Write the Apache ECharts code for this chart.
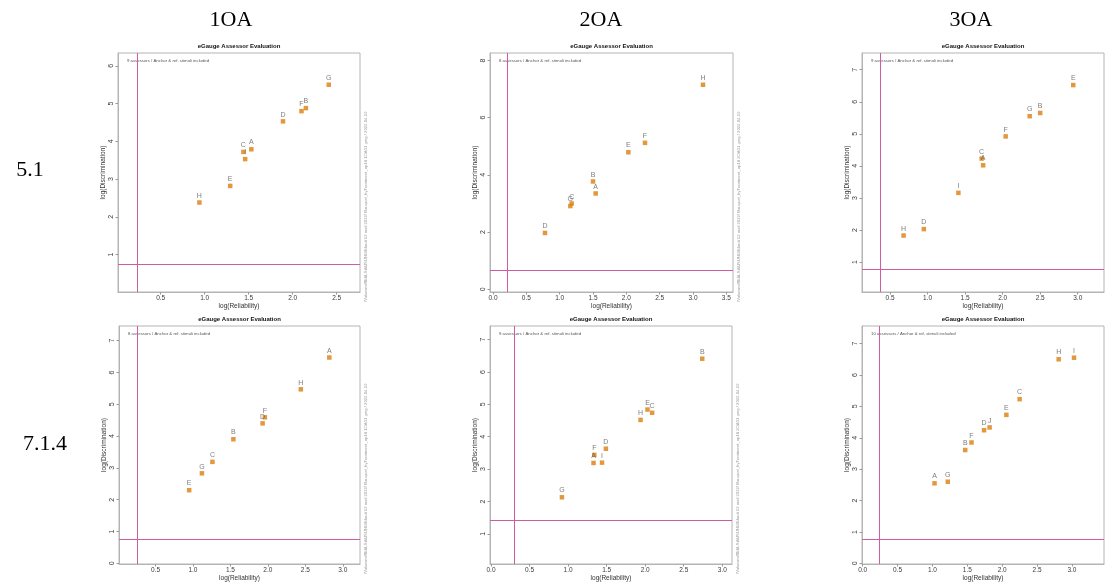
<!DOCTYPE html>
<html><head><meta charset="utf-8">
<script src="https://cdn.jsdelivr.net/npm/echarts@6/dist/echarts.min.js"></script>
<style>html,body{margin:0;padding:0;background:#fff}#c{width:1108px;height:584px}</style>
</head><body><div id="c"></div>
<script>
// ---------- data ----------
const columnLabels = ['1OA', '2OA', '3OA'];
const rowLabels = ['5.1', '7.1.4'];
const chartTitle = 'eGauge Assessor Evaluation';
const xName = 'log(Reliability)';
const yName = 'log(Discrimination)';

// panel 1 : 5.1 / 1OA
const names1 = ['G', 'B', 'F', 'D', 'A', 'C', 'I', 'E', 'H'];
const rel1   = [2.41, 2.15, 2.10, 1.89, 1.53, 1.44, 1.46, 1.29, 0.94];
const disc1  = [5.50, 4.88, 4.80, 4.53, 3.79, 3.72, 3.53, 2.82, 2.38];
// panel 2 : 5.1 / 2OA
const names2 = ['H', 'F', 'E', 'B', 'A', 'C', 'G', 'D'];
const rel2   = [3.15, 2.28, 2.03, 1.50, 1.54, 1.18, 1.16, 0.78];
const disc2  = [7.15, 5.12, 4.79, 3.77, 3.35, 3.00, 2.91, 1.97];
// panel 3 : 5.1 / 3OA
const names3 = ['E', 'B', 'G', 'F', 'C', 'A', 'I', 'D', 'H'];
const rel3   = [2.94, 2.50, 2.36, 2.04, 1.72, 1.74, 1.41, 0.95, 0.68];
const disc3  = [6.52, 5.65, 5.55, 4.92, 4.23, 4.02, 3.16, 2.03, 1.83];
// panel 4 : 7.1.4 / 1OA
const names4 = ['A', 'H', 'F', 'D', 'B', 'C', 'G', 'E'];
const rel4   = [2.82, 2.44, 1.96, 1.93, 1.54, 1.26, 1.12, 0.95];
const disc4  = [6.47, 5.47, 4.59, 4.40, 3.90, 3.19, 2.83, 2.30];
// panel 5 : 7.1.4 / 2OA
const names5 = ['B', 'E', 'C', 'H', 'D', 'F', 'A', 'I', 'G'];
const rel5   = [2.74, 2.03, 2.09, 1.94, 1.49, 1.34, 1.33, 1.44, 0.92];
const disc5  = [6.41, 4.84, 4.74, 4.52, 3.63, 3.44, 3.19, 3.20, 2.13];
// panel 6 : 7.1.4 / 3OA
const names6 = ['I', 'H', 'C', 'E', 'J', 'D', 'F', 'B', 'G', 'A'];
const rel6   = [3.03, 2.81, 2.25, 2.06, 1.82, 1.74, 1.56, 1.47, 1.22, 1.03];
const disc6  = [6.55, 6.50, 5.23, 4.73, 4.33, 4.24, 3.85, 3.61, 2.60, 2.55];

// reference lines
const refRel  = [0.235, 0.215, 0.37, 0.25, 0.30, 0.24];
const refDisc = [0.74, 0.65, 0.78, 0.76, 1.42, 0.76];

// notes
const notes = [
  '9 assessors / Anchor & ref. stimuli included',
  '8 assessors / Anchor & ref. stimuli included',
  '9 assessors / Anchor & ref. stimuli included',
  '8 assessors / Anchor & ref. stimuli included',
  '9 assessors / Anchor & ref. stimuli included',
  '10 assessors / Anchor & ref. stimuli included'
];
const paths = [
  '/Volumes/BMA-SAMSUNG/Mardi 12 avril 2022/ Bouquet_byTreatment_ap18 1OA01 .png / 2022-04-19',
  '/Volumes/BMA-SAMSUNG/Mardi 12 avril 2022/ Bouquet_byTreatment_ap18 2OA01 .png / 2022-04-19',
  '/Volumes/BMA-SAMSUNG/Mardi 12 avril 2022/ Bouquet_byTreatment_ap18 3OA01 .png / 2022-04-19',
  '/Volumes/BMA-SAMSUNG/Mardi 12 avril 2022/ Bouquet_byTreatment_ap18 1OA01 .png / 2022-04-19',
  '/Volumes/BMA-SAMSUNG/Mardi 12 avril 2022/ Bouquet_byTreatment_ap18 2OA01 .png / 2022-04-19',
  '/Volumes/BMA-SAMSUNG/Mardi 12 avril 2022/ Bouquet_byTreatment_ap18 3OA01 .png / 2022-04-19'
];

// tick labels
const xTicks1 = [0.5, 1.0, 1.5, 2.0, 2.5];
const xTicks2 = [0.0, 0.5, 1.0, 1.5, 2.0, 2.5, 3.0, 3.5];
const xTicks3 = [0.5, 1.0, 1.5, 2.0, 2.5, 3.0];
const xTicks4 = [0.5, 1.0, 1.5, 2.0, 2.5, 3.0];
const xTicks5 = [0.0, 0.5, 1.0, 1.5, 2.0, 2.5, 3.0];
const xTicks6 = [0.0, 0.5, 1.0, 1.5, 2.0, 2.5, 3.0];
const yTicks1 = [1, 2, 3, 4, 5, 6];
const yTicks2 = [0, 2, 4, 6, 8];
const yTicks3 = [1, 2, 3, 4, 5, 6, 7];
const yTicks4 = [0, 1, 2, 3, 4, 5, 6, 7];
const yTicks5 = [1, 2, 3, 4, 5, 6, 7];
const yTicks6 = [0, 1, 2, 3, 4, 5, 6, 7];

// ---------- layout ----------
const panelData = [
  [names1, rel1, disc1, xTicks1, yTicks1],
  [names2, rel2, disc2, xTicks2, yTicks2],
  [names3, rel3, disc3, xTicks3, yTicks3],
  [names4, rel4, disc4, xTicks4, yTicks4],
  [names5, rel5, disc5, xTicks5, yTicks5],
  [names6, rel6, disc6, xTicks6, yTicks6]
];
const boxes = [ // left, top, width, height
  [118, 53, 242, 239], [490, 53, 243, 239], [862, 53, 242, 239],
  [119, 326, 241, 238], [490, 326, 242, 238], [862, 326, 242, 238]
];
const ranges = [ // xmin, xmax, ymin, ymax
  [0.015, 2.765, 0.01, 6.34],
  [-0.045, 3.6, -0.094, 8.26],
  [0.126, 3.35, 0.07, 7.52],
  [0.013, 3.23, -0.02, 7.46],
  [-0.013, 3.126, 0.07, 7.42],
  [-0.01, 3.46, -0.02, 7.56]
];

const SANS = 'Liberation Sans, Arial, sans-serif';
const SERIF = 'Liberation Serif, Times New Roman, serif';
const grids = [], xAxes = [], yAxes = [], series = [], graphics = [];

panelData.forEach((p, i) => {
  const [names, rel, disc, xt, yt] = p;
  const [l, t, w, h] = boxes[i];
  const [x0, x1, y0, y1] = ranges[i];
  grids.push({left: l, top: t, width: w, height: h, show: true,
    borderColor: '#b4b4b4', borderWidth: 1, backgroundColor: 'transparent', containLabel: false});
  xAxes.push({gridIndex: i, type: 'value', min: x0, max: x1,
    splitLine: {show: false},
    axisLine: {show: true, onZero: false, lineStyle: {color: '#b4b4b4', width: 1}},
    axisTick: {show: true, length: 2.5, customValues: xt, lineStyle: {color: '#999'}},
    axisLabel: {show: true, customValues: xt, formatter: v => Number(v).toFixed(1),
      fontSize: 6.5, color: '#3a3a3a', margin: 3, fontFamily: SANS},
    name: xName, nameLocation: 'middle', nameGap: 11,
    nameTextStyle: {fontSize: 6.5, color: '#333', fontFamily: SANS}});
  yAxes.push({gridIndex: i, type: 'value', min: y0, max: y1,
    splitLine: {show: false},
    axisLine: {show: true, onZero: false, lineStyle: {color: '#b4b4b4', width: 1}},
    axisTick: {show: true, length: 2.5, customValues: yt, lineStyle: {color: '#999'}},
    axisLabel: {show: true, customValues: yt, formatter: v => String(Math.round(v)), rotate: 90,
      fontSize: 7, color: '#3a3a3a', margin: 3.5, fontFamily: SANS},
    name: yName, nameLocation: 'middle', nameGap: 11, nameRotate: 90,
    nameTextStyle: {fontSize: 6.5, color: '#333', fontFamily: SANS}});
  series.push({type: 'scatter', xAxisIndex: i, yAxisIndex: i, silent: true,
    data: rel.map((x, j) => [x, disc[j], names[j]]),
    symbol: 'rect', symbolSize: 4.5, itemStyle: {color: '#DB7F0E'},
    label: {show: true, position: 'top', distance: 1, formatter: q => q.data[2],
      fontSize: 7, color: '#5c5c5c', fontFamily: SANS},
    markLine: {silent: true, symbol: 'none', animation: false,
      label: {show: false},
      lineStyle: {color: '#d25aa2', width: 1, type: 'solid'},
      emphasis: {disabled: true},
      data: [{xAxis: refRel[i]}, {yAxis: refDisc[i]}]}});
  // title
  graphics.push({type: 'text', x: l + w / 2, y: t - 7,
    style: {text: chartTitle, font: 'bold 6px ' + SANS, fill: '#111',
      textAlign: 'center', align: 'center', textVerticalAlign: 'middle', verticalAlign: 'middle'}});
  // note
  graphics.push({type: 'text', x: l + 9, y: t + 7.5,
    style: {text: notes[i], font: '4.3px ' + SANS, fill: '#555',
      textAlign: 'left', align: 'left', textVerticalAlign: 'middle', verticalAlign: 'middle'}});
  // path text
  graphics.push({type: 'text', x: l + w + 5.5, y: t + h + 10, rotation: Math.PI / 2,
    style: {text: paths[i], font: '4.2px ' + SANS, fill: '#9a9a9a',
      textAlign: 'left', align: 'left', textVerticalAlign: 'middle', verticalAlign: 'middle'}});
});

const colX = [231, 601, 971];
columnLabels.forEach((c, k) => graphics.push({type: 'text', x: colX[k], y: 20,
  style: {text: c, font: '22px ' + SERIF, fill: '#000',
    textAlign: 'center', align: 'center', textVerticalAlign: 'middle', verticalAlign: 'middle'}}));
const rowX = [30, 45], rowY = [170, 444];
rowLabels.forEach((r, k) => graphics.push({type: 'text', x: rowX[k], y: rowY[k],
  style: {text: r, font: '22px ' + SERIF, fill: '#000',
    textAlign: 'center', align: 'center', textVerticalAlign: 'middle', verticalAlign: 'middle'}}));

const chart = echarts.init(document.getElementById('c'), null, {renderer: 'canvas'});
chart.setOption({
  animation: false,
  backgroundColor: '#fff',
  grid: grids, xAxis: xAxes, yAxis: yAxes, series: series, graphic: graphics
});
</script></body></html>
